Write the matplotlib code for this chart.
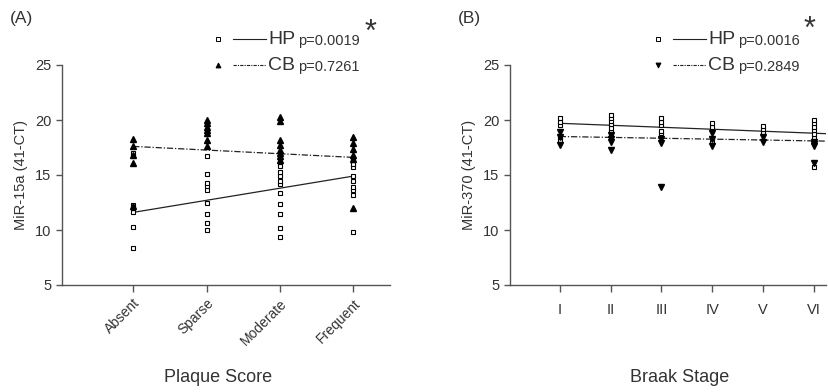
import matplotlib
matplotlib.use("Agg")
import matplotlib.pyplot as plt
from matplotlib.lines import Line2D

plt.rcParams['font.family'] = ['Liberation Sans', 'DejaVu Sans']

# ---------------- Data ----------------
plaque_cats = ["Absent", "Sparse", "Moderate", "Frequent"]
hp_plaque = [
    [8.4, 10.3, 11.6, 12.0, 12.3, 16.7, 17.0],
    [10.0, 10.6, 11.5, 12.5, 13.6, 14.0, 14.3, 15.1, 16.7],
    [9.4, 10.2, 11.5, 12.4, 13.4, 14.2, 14.5, 14.9, 15.3, 15.8, 16.2],
    [9.8, 13.2, 13.6, 13.9, 14.5, 14.9, 15.7, 16.0, 16.4],
]
cb_plaque = [
    [12.2, 16.1, 16.8, 17.6, 18.3],
    [17.6, 18.2, 18.8, 19.1, 19.4, 19.7, 20.0],
    [16.4, 16.7, 17.0, 17.3, 17.7, 18.2, 19.9, 20.3],
    [12.0, 16.5, 16.8, 17.4, 17.9, 18.5],
]
hp_plaque_fit = [11.6, 14.9]
cb_plaque_fit = [17.6, 16.6]

braak_cats = ["I", "II", "III", "IV", "V", "VI"]
hp_braak = [
    [18.2, 18.5, 19.55, 19.85, 20.15],
    [18.7, 19.0, 19.3, 19.6, 19.9, 20.2, 20.5],
    [18.8, 19.0, 19.55, 19.85, 20.2],
    [18.0, 19.4, 19.7],
    [18.85, 19.15, 19.45],
    [15.75, 18.35, 18.7, 19.1, 19.4, 19.7, 20.0],
]
cb_braak = [
    [17.7, 18.5, 18.95],
    [17.3, 18.0, 18.3, 18.6],
    [13.95, 17.9, 18.3],
    [17.6, 18.3, 18.8],
    [18.0, 18.5],
    [16.1, 17.6, 17.8, 18.0],
]
hp_braak_fit = [19.7, 18.8]
cb_braak_fit = [18.5, 18.1]

yticks = [5, 10, 15, 20, 25]

# ---------------- Figure ----------------
W, H = 829, 392
fig = plt.figure(figsize=(W / 100, H / 100), dpi=100)

def fx(px):
    return px / W

def fy(py):
    return 1 - py / H

TXT = "#333333"
SPINE = "#555555"

axA = fig.add_axes([fx(62), fy(285), fx(390) - fx(62), fy(65) - fy(285)])
axB = fig.add_axes([fx(510), fy(285), fx(826) - fx(510), fy(65) - fy(285)])

def style(ax):
    for s in ["top", "right"]:
        ax.spines[s].set_visible(False)
    for s in ["left", "bottom"]:
        ax.spines[s].set_color(SPINE)
        ax.spines[s].set_linewidth(1.0)
    ax.set_ylim(5, 25)
    ax.set_yticks(yticks)
    ax.tick_params(axis="both", colors=SPINE, labelcolor=TXT, direction="out",
                   length=4, width=1.0, labelsize=10.5)
    ax.patch.set_alpha(0)

sq_kw = dict(marker="s", ms=3.2, mfc="white", mec="black", mew=0.8, ls="none")

# Panel A
for i, vals in enumerate(hp_plaque):
    axA.plot([i] * len(vals), vals, **sq_kw, zorder=3)
for i, vals in enumerate(cb_plaque):
    axA.plot([i] * len(vals), vals, marker="^", ms=4.3, color="black", ls="none", zorder=3)
axA.plot([0, 3], hp_plaque_fit, color="#222222", lw=0.9, zorder=2)
axA.plot([0, 3], cb_plaque_fit, color="#222222", lw=0.9, dashes=[5, 1.5, 1, 1.5], zorder=2)
axA.set_xlim(-0.97, 3.5)
axA.set_xticks(range(len(plaque_cats)))
axA.set_xticklabels(plaque_cats, rotation=45, ha="right", rotation_mode="anchor")
style(axA)
axA.tick_params(axis="x", labelsize=10, length=5, pad=3)
axA.set_ylabel("MiR-15a (41-CT)", fontsize=10.5, color=TXT, labelpad=5)

# Panel B
for i, vals in enumerate(hp_braak):
    axB.plot([i] * len(vals), vals, **sq_kw, zorder=3)
for i, vals in enumerate(cb_braak):
    axB.plot([i] * len(vals), vals, marker="v", ms=4.3, color="black", ls="none", zorder=3)
axB.plot([0, 5.24], [hp_braak_fit[0], hp_braak_fit[0] + (hp_braak_fit[1] - hp_braak_fit[0]) * 5.24 / 5],
         color="#222222", lw=0.9, zorder=2)
axB.plot([0, 5.24], [cb_braak_fit[0], cb_braak_fit[0] + (cb_braak_fit[1] - cb_braak_fit[0]) * 5.24 / 5],
         color="#222222", lw=0.9, dashes=[5, 1.5, 1, 1.5], zorder=2)
axB.set_xlim(-0.98, 5.24)
axB.set_xticks(range(len(braak_cats)))
axB.set_xticklabels(braak_cats)
style(axB)
axB.tick_params(axis="x", length=5, pad=8)
axB.set_ylabel("MiR-370 (41-CT)", fontsize=10.5, color=TXT, labelpad=5)

# Axis titles
fig.text(fx(218), fy(378), "Plaque Score", fontsize=13, color=TXT, ha="center", va="center")
fig.text(fx(680), fy(378), "Braak Stage", fontsize=13, color=TXT, ha="center", va="center")

# Panel letters
fig.text(fx(10), fy(18), "(A)", fontsize=12.5, color=TXT, ha="left", va="center")
fig.text(fx(458), fy(18), "(B)", fontsize=12.5, color=TXT, ha="left", va="center")

# Legends (manual)
def legend_row(x0, y, marker, dashed, label, ptxt):
    fig.add_artist(Line2D([fx(x0)], [fy(y)], marker=marker, ms=3.2 if marker == "s" else 3.5,
                          mfc="white" if marker == "s" else "black", mec="black", mew=0.7,
                          ls="none", transform=fig.transFigure))
    kw = dict(color="#222222", lw=0.8, transform=fig.transFigure)
    if dashed:
        kw["dashes"] = [3, 1, 1, 1]
    fig.add_artist(Line2D([fx(x0 + 15), fx(x0 + 48)], [fy(y), fy(y)], **kw))
    fig.text(fx(x0 + 50), fy(y), label, fontsize=14, color=TXT, ha="left", va="center")
    fig.text(fx(x0 + 80), fy(y + 2), ptxt, fontsize=10.5, color=TXT, ha="left", va="center")

legend_row(218, 39, "s", False, "HP", "p=0.0019")
legend_row(218, 65, "^", True, "CB", "p=0.7261")
fig.text(fx(371), fy(33), "*", fontsize=22, color=TXT, ha="center", va="center")

legend_row(658, 39, "s", False, "HP", "p=0.0016")
legend_row(658, 65, "v", True, "CB", "p=0.2849")
fig.text(fx(810), fy(30), "*", fontsize=22, color=TXT, ha="center", va="center")

fig.savefig("out.png", dpi=100)
